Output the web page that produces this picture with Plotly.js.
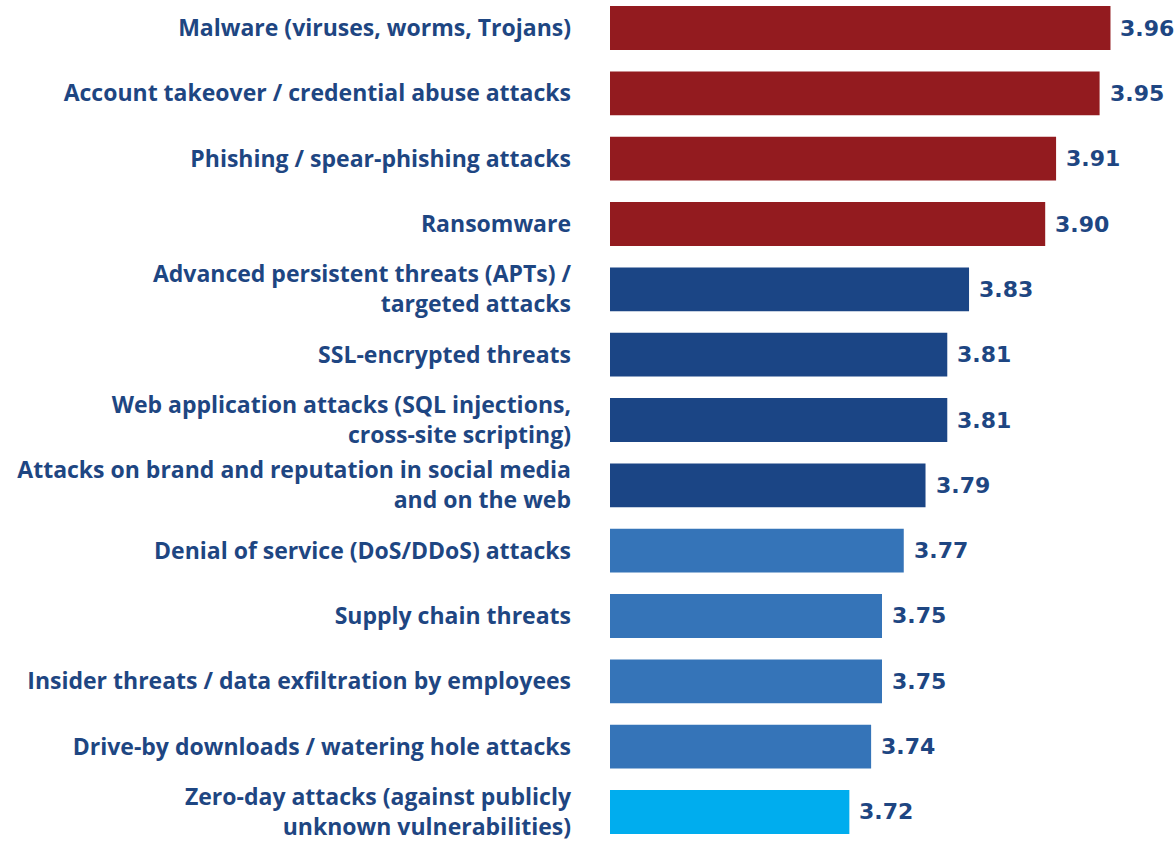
<!DOCTYPE html>
<html>
<head>
<meta charset="utf-8">
<script src="https://cdn.plot.ly/plotly-3.0.1.min.js"></script>
<style>html,body{margin:0;padding:0;background:#fff;}#chart{width:1176px;height:841px;}</style>
</head>
<body>
<div id="chart"></div>
<script>
const categories = [
  "Malware (viruses, worms, Trojans)",
  "Account takeover / credential abuse attacks",
  "Phishing / spear-phishing attacks",
  "Ransomware",
  "Advanced persistent threats (APTs) /<br>targeted attacks",
  "SSL-encrypted threats",
  "Web application attacks (SQL injections,<br>cross-site scripting)",
  "Attacks on brand and reputation in social media<br>and on the web",
  "Denial of service (DoS/DDoS) attacks",
  "Supply chain threats",
  "Insider threats / data exfiltration by employees",
  "Drive-by downloads / watering hole attacks",
  "Zero-day attacks (against publicly<br>unknown vulnerabilities)"
];
const scores = [3.96, 3.95, 3.91, 3.90, 3.83, 3.81, 3.81, 3.79, 3.77, 3.75, 3.75, 3.74, 3.72];
const barColors = ["#931B1F","#931B1F","#931B1F","#931B1F",
  "#1B4585","#1B4585","#1B4585","#1B4585",
  "#3574B8","#3574B8","#3574B8","#3574B8",
  "#00ADEE"];
const valueLabels = scores.map(v => v.toFixed(2));

const textColor = "#1E4682";
const axisStart = 3.5;

const trace = {
  type: "bar",
  orientation: "h",
  y: categories.map((c, i) => i),
  x: scores.map(v => v - axisStart),
  base: axisStart,
  marker: {color: barColors, line: {width: 0}},
  hoverinfo: "skip"
};

const annotations = scores.map((v, i) => ({
  x: v, y: i, xref: "x", yref: "y",
  text: valueLabels[i], showarrow: false,
  xanchor: "left", yanchor: "middle", xshift: 8,
  font: {family: "DejaVu Sans", size: 22, color: textColor, weight: 700}
}));

const layout = {
  width: 1176, height: 841,
  margin: {l: 610, r: 22, t: 0, b: 0, pad: 0},
  paper_bgcolor: "#ffffff", plot_bgcolor: "#ffffff",
  showlegend: false,
  bargap: 0.33,
  xaxis: {range: [3.5, 4.0], showgrid: false, zeroline: false, showticklabels: false, ticks: "", showline: false, fixedrange: true},
  yaxis: {
    range: [12.444, -0.4286],
    tickmode: "array",
    tickvals: categories.map((c, i) => i),
    ticktext: categories,
    ticks: "", showgrid: false, zeroline: false, showline: false,
    ticklabelstandoff: 38,
    ticklabeloverflow: "allow",
    tickfont: {family: "Open Sans", size: 23, color: textColor, weight: 700}
  },
  annotations: annotations
};

Plotly.newPlot("chart", [trace], layout, {displayModeBar: false, staticPlot: true});
</script>
</body>
</html>
